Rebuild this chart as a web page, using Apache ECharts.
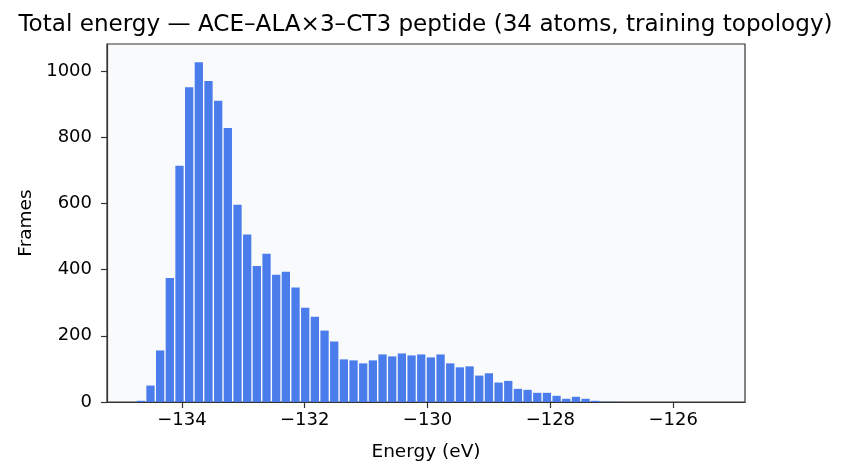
<!DOCTYPE html>
<html>
<head>
<meta charset="utf-8">
<script src="https://cdn.jsdelivr.net/npm/echarts@6/dist/echarts.min.js"></script>
<style>
  html, body { margin: 0; padding: 0; background: #fff; }
  #container { width: 851px; height: 476px; }
</style>
</head>
<body>
<div id="container"></div>
<script>
var dom = document.getElementById('container');
var myChart = echarts.init(dom, null, { renderer: 'canvas' });

// histogram: 60 equal bins between histMin and histMax (eV)
const histMin = -134.748;
const histMax = -125.30;
const counts = [
  5, 51, 157, 376, 715, 952, 1028, 971, 911, 829,
  597, 507, 412, 449, 386, 395, 347, 286, 259, 217,
  184, 130, 127, 118, 127, 145, 139, 148, 142, 145,
  136, 145, 118, 106, 109, 81, 88, 60, 65, 41,
  38, 29, 29, 20, 11, 17, 11, 5, 2, 2,
  0, 0, 1, 0, 0, 0, 0, 0, 0, 1
];
const xTicks = [-134, -132, -130, -128, -126];
const yTicks = [0, 200, 400, 600, 800, 1000];

const binW = (histMax - histMin) / counts.length;
const bins = counts.map((c, i) => [histMin + i * binW, histMin + (i + 1) * binW, c]);

const font = 'DejaVu Sans';
const axisColor = '#333';

var option = {
  animation: false,
  title: {
    text: 'Total energy \u2014 ACE\u2013ALA\u00d73\u2013CT3 peptide (34 atoms, training topology)',
    left: 'center',
    top: 8,
    textStyle: { fontFamily: font, fontSize: 23.1, fontWeight: 'normal', color: '#000' }
  },
  grid: {
    left: 107, right: 106, top: 44, bottom: 74,
    show: true,
    backgroundColor: '#f8fafc',
    borderColor: axisColor,
    borderWidth: 1.2
  },
  xAxis: {
    type: 'value',
    min: -135.22,
    max: -124.83,
    z: 5,
    name: 'Energy (eV)',
    nameLocation: 'middle',
    nameGap: 41,
    nameTextStyle: { fontFamily: font, fontSize: 18.5, color: '#000' },
    axisLine: { show: true, onZero: false, lineStyle: { color: axisColor, width: 1.2 } },
    axisTick: { show: true, length: 6, customValues: xTicks, lineStyle: { color: axisColor, width: 1.2 } },
    axisLabel: {
      customValues: xTicks,
      margin: 9,
      fontFamily: font, fontSize: 18, color: '#000',
      formatter: v => (v < 0 ? '\u2212' : '') + Math.abs(v)
    },
    splitLine: { show: false }
  },
  yAxis: {
    type: 'value',
    min: 0,
    max: 1081.5,
    z: 5,
    name: 'Frames',
    nameLocation: 'middle',
    nameGap: 68,
    nameTextStyle: { fontFamily: font, fontSize: 18.5, color: '#000' },
    axisLine: { show: true, onZero: false, lineStyle: { color: axisColor, width: 1.2 } },
    axisTick: { show: true, length: 6, customValues: yTicks, lineStyle: { color: axisColor, width: 1.2 } },
    axisLabel: {
      customValues: yTicks,
      margin: 15,
      fontFamily: font, fontSize: 18, color: '#000',
      formatter: v => String(v)
    },
    splitLine: { show: false }
  },
  series: [{
    type: 'custom',
    z: 1,
    data: bins,
    encode: { x: [0, 1], y: 2 },
    renderItem: function (params, api) {
      if (!api.value(2)) return null;
      var p0 = api.coord([api.value(0), api.value(2)]);
      var p1 = api.coord([api.value(1), 0]);
      var inset = 0.7;
      return {
        type: 'rect',
        shape: {
          x: p0[0] + inset,
          y: p0[1] + inset * 0.6,
          width: p1[0] - p0[0] - 2 * inset,
          height: Math.max(p1[1] - p0[1] - inset * 0.6, 0.4)
        },
        style: { fill: '#4a7cec' }
      };
    }
  }]
};

myChart.setOption(option);
window.addEventListener('resize', myChart.resize);
</script>
</body>
</html>
